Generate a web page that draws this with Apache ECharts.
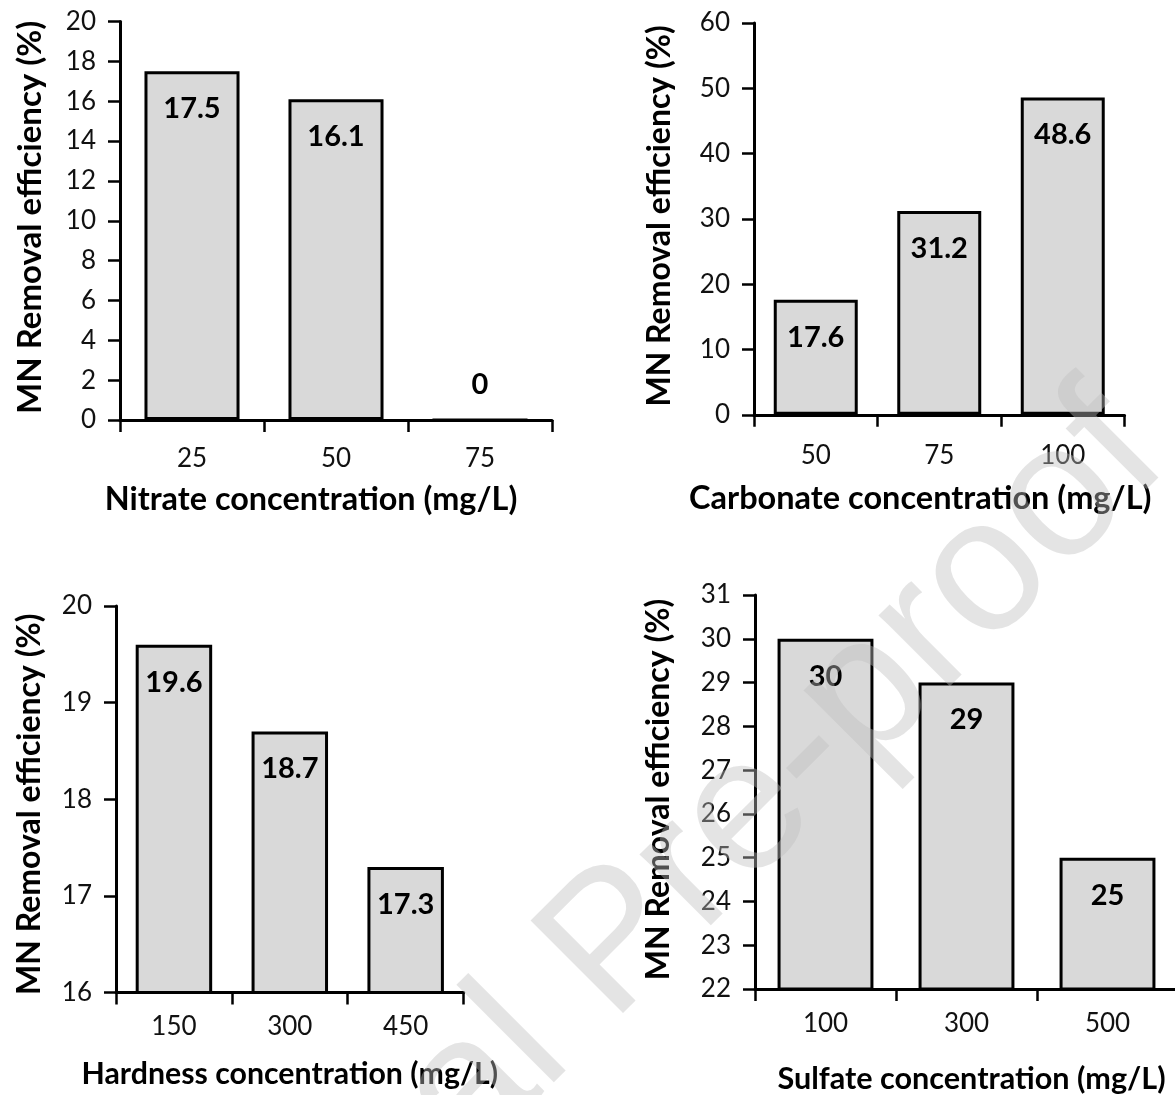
<!DOCTYPE html>
<html>
<head>
<meta charset="utf-8">
<script src="https://cdn.jsdelivr.net/npm/echarts@6/dist/echarts.min.js"></script>
<style>
html,body{margin:0;padding:0;background:#fff;}
#chart{width:1175px;height:1095px;}
</style>
</head>
<body>
<div id="chart"></div>
<script>
// ---- data ----
const yTitle = 'MN Removal efficiency (%)';

const nitrateCats = ['25', '50', '75'];
const nitrateVals = [17.5, 16.1, 0];
const nitrateTitle = 'Nitrate concentration (mg/L)';

const carbonateCats = ['50', '75', '100'];
const carbonateVals = [17.6, 31.2, 48.6];
const carbonateTitle = 'Carbonate concentration (mg/L)';

const hardnessCats = ['150', '300', '450'];
const hardnessVals = [19.6, 18.7, 17.3];
const hardnessTitle = 'Hardness concentration (mg/L)';

const sulfateCats = ['100', '300', '500'];
const sulfateVals = [30, 29, 25];
const sulfateTitle = 'Sulfate concentration (mg/L)';

const watermarkText = 'Journal Pre-proof';

// ---- layout ----
const FONT = 'Lato';
const TICK_FS = 26, LABEL_FS = 29;
const panels = [
  {cats: nitrateCats, vals: nitrateVals, xName: nitrateTitle, min: 0, max: 20, interval: 2,
   grid: {left: 120, top: 21.5, width: 432, height: 398.5}, barWidth: '66%',
   xLabelMargin: 26, xNameFs: 32.4, xNameGap: 63.8, xNamePad: [0, 50, 0, 0],
   yNameFs: 33, yNameGap: 73.5, yNamePad: [0, 0, 0, 7]},
  {cats: carbonateCats, vals: carbonateVals, xName: carbonateTitle, min: 0, max: 60, interval: 10,
   grid: {left: 754, top: 23, width: 370.5, height: 391.8}, barWidth: '68%',
   xLabelMargin: 28, xNameFs: 32.5, xNameGap: 67.5, xNamePad: [0, 38, 0, 0],
   yNameFs: 32, yNameGap: 78, yNamePad: [0, 0, 0, 6]},
  {cats: hardnessCats, vals: hardnessVals, xName: hardnessTitle, min: 16, max: 20, interval: 1,
   grid: {left: 116, top: 606, width: 347.6, height: 386.5}, barWidth: '66%',
   xLabelMargin: 21.5, xNameFs: 30.3, xNameGap: 66.3, xNamePad: [0, 0, 0, 0],
   yNameFs: 32, yNameGap: 70, yNamePad: [0, 10, 0, 0]},
  {cats: sulfateCats, vals: sulfateVals, xName: sulfateTitle, min: 22, max: 31, interval: 1,
   grid: {left: 755, top: 595, width: 423, height: 394}, barWidth: '68%',
   xLabelMargin: 21.5, xNameFs: 30.6, xNameGap: 74.7, xNamePad: [0, 0, 0, 10],
   yNameFs: 32, yNameGap: 80, yNamePad: [0, 0, 0, 5]}
];

const axisLineStyle = {color: '#000', width: 3};
const option = {
  backgroundColor: '#fff',
  animation: false,
  grid: [], xAxis: [], yAxis: [], series: [],
  graphic: [{
    type: 'text', x: 616, y: 946, rotation: Math.PI / 4, z: 100, silent: true,
    style: {text: watermarkText, font: '190px "Liberation Sans"', fill: 'rgba(190,190,190,0.42)',
            align: 'center', verticalAlign: 'middle'}
  }]
};

panels.forEach((p, i) => {
  option.grid.push(Object.assign({containLabel: false, outerBoundsMode: 'none'}, p.grid));
  option.xAxis.push({
    type: 'category', gridIndex: i, data: p.cats,
    axisLine: {lineStyle: axisLineStyle},
    axisTick: {show: true, length: 12, inside: false, lineStyle: {color: '#000', width: 2.5}},
    axisLabel: {color: '#111', fontFamily: FONT, fontSize: TICK_FS, margin: p.xLabelMargin},
    name: p.xName, nameLocation: 'middle', nameGap: p.xNameGap,
    nameTextStyle: {color: '#000', fontFamily: FONT, fontWeight: 'bold', fontSize: p.xNameFs, padding: p.xNamePad}
  });
  option.yAxis.push({
    type: 'value', gridIndex: i, min: p.min, max: p.max, interval: p.interval,
    splitLine: {show: false},
    axisLine: {show: true, lineStyle: axisLineStyle},
    axisTick: {show: true, length: 12, lineStyle: {color: '#000', width: 2.5}},
    axisLabel: {color: '#111', fontFamily: FONT, fontSize: TICK_FS, margin: 24},
    name: yTitle, nameLocation: 'middle', nameGap: p.yNameGap,
    nameTextStyle: {color: '#000', fontFamily: FONT, fontWeight: 'bold', fontSize: p.yNameFs, padding: p.yNamePad}
  });
  option.series.push({
    type: 'bar', xAxisIndex: i, yAxisIndex: i, barWidth: p.barWidth,
    itemStyle: {color: '#d9d9d9', borderColor: '#000', borderWidth: 3},
    label: {show: true, position: 'insideTop', distance: 23, color: '#000',
            fontFamily: FONT, fontWeight: 'bold', fontSize: LABEL_FS},
    data: p.vals.map(v => v === 0 ? {value: v, label: {position: 'top', distance: 19}} : v)
  });
});

const chart = echarts.init(document.getElementById('chart'), null, {renderer: 'canvas'});
chart.setOption(option);
</script>
</body>
</html>
